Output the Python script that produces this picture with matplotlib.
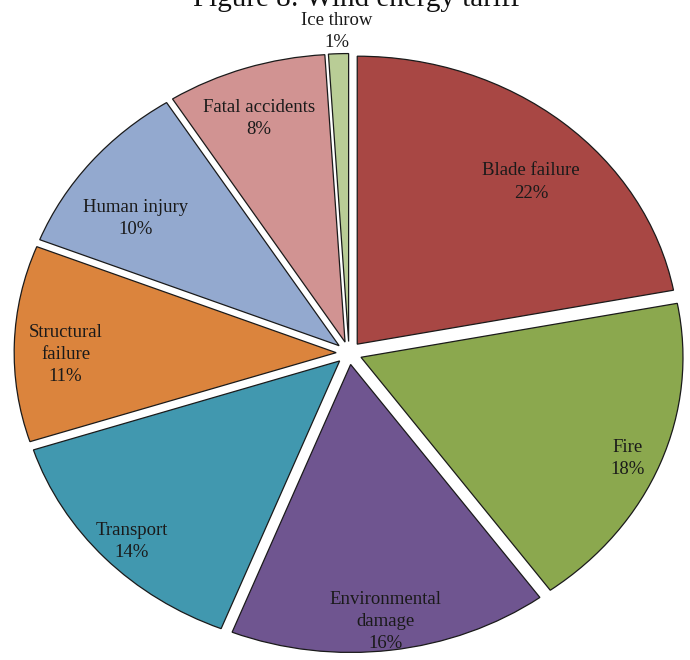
import matplotlib
matplotlib.use("Agg")
import matplotlib.pyplot as plt
import numpy as np

# Causes of wind-turbine accidents, share of incidents (%)
categories = ["Blade failure", "Fire", "Environmental\ndamage", "Transport",
              "Structural\nfailure", "Human injury", "Fatal accidents", "Ice throw"]
shares = [22, 18, 16, 14, 11, 10, 8, 1]
colors = ["#A84744", "#8BA84E", "#6F5590", "#4198AF",
          "#DB843D", "#93A9CF", "#D19392", "#B9CD96"]

# label placement relative to each wedge centre: radial distance and angular nudge (deg)
label_dist = [0.78, 0.90, 0.90, 0.90, 0.84, 0.77, 0.82, 1.077]
label_nudge = [-4.2, -1.4, -0.3, 1.0, 2.3, 4.6, 1.0, 0.2]

plt.rcParams["font.family"] = ["Liberation Serif", "DejaVu Serif"]

fig = plt.figure(figsize=(6.9, 6.6), dpi=100)
ax = fig.add_axes([0, 0, 1, 1])

wedges, _ = ax.pie(shares, colors=colors, startangle=90, counterclock=False,
                   explode=[0.04] * len(shares),
                   wedgeprops=dict(edgecolor="#1a1a1a", linewidth=0.9))

ax.set_aspect("auto")
ax.set_xlim(-1.084, 1.059)
ax.set_ylim(-1.066, 1.226)
ax.axis("off")

for w, name, val, d, nud in zip(wedges, categories, shares, label_dist, label_nudge):
    mid = np.deg2rad((w.theta1 + w.theta2) / 2 + nud)
    cx, cy = w.center
    ax.text(cx + d * np.cos(mid), cy + d * np.sin(mid), f"{name}\n{val}%",
            ha="center", va="center", fontsize=13.5, color="#1a1a1a",
            linespacing=1.4)

fig.text(0.516, 1 - 6 / 660, "Figure 8: Wind energy tariff", ha="center",
         va="baseline", fontsize=21, color="#111111")

fig.savefig("out.png", dpi=100, facecolor="white")
